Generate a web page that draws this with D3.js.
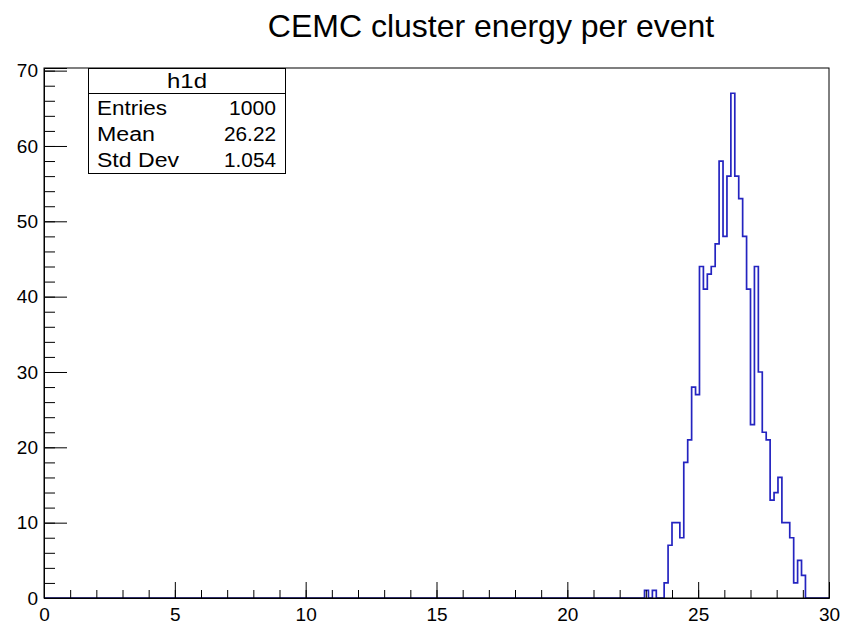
<!DOCTYPE html>
<html>
<head>
<meta charset="utf-8">
<script src="https://cdn.jsdelivr.net/npm/d3@7"></script>
<style>
  html, body { margin: 0; padding: 0; background: #fff; }
  svg text { font-family: "Liberation Sans", Arial, Helvetica, sans-serif; fill: #000; }
</style>
</head>
<body>
<svg id="chart" width="848" height="625"></svg>
<script>
// Histogram h1d: 200 bins over [0, 30]; only the filled range is listed.
const histTitle = "CEMC cluster energy per event";
const histName = "h1d";
const xRange = [0, 30];
const yMax = 70.35;
const binWidth = 0.15;
const firstBinLow = 22.95;
const binCounts = [1, 0, 1, 0, 0, 2, 7, 10, 10, 8, 18, 21, 28, 27, 44, 41, 43, 44, 47, 58,
                   48, 56, 67, 56, 53, 48, 41, 23, 44, 30, 22, 21, 13, 14, 16, 10, 10, 8, 2, 5, 3];
const xMajorTicks = [0, 5, 10, 15, 20, 25, 30];
const yMajorTicks = [0, 10, 20, 30, 40, 50, 60, 70];
const statLabels = ["Entries", "Mean", "Std Dev"];
const statValues = ["1000", "26.22", "1.054"];

const svg = d3.select("#chart");
const frame = { left: 44, right: 829, top: 68, bottom: 598 };

const x = d3.scaleLinear().domain(xRange).range([frame.left, frame.right]);
const y = d3.scaleLinear().domain([0, yMax]).range([frame.bottom, frame.top]);

// Title
svg.append("text")
  .attr("x", 491).attr("y", 37)
  .attr("text-anchor", "middle")
  .style("font-size", "32px")
  .text(histTitle);

// Frame background
svg.append("rect")
  .attr("x", frame.left).attr("y", frame.top)
  .attr("width", frame.right - frame.left).attr("height", frame.bottom - frame.top)
  .attr("fill", "#fff");

// Step outline of the histogram
const bins = binCounts.map((c, i) => ({ x0: firstBinLow + i * binWidth, x1: firstBinLow + (i + 1) * binWidth, c }));
const pts = [[xRange[0], 0], [bins[0].x0, 0]];
bins.forEach(b => { pts.push([b.x0, b.c]); pts.push([b.x1, b.c]); });
pts.push([bins[bins.length - 1].x1, 0]);
pts.push([xRange[1], 0]);
svg.append("path")
  .attr("d", d3.line().x(d => x(d[0])).y(d => y(d[1]))(pts))
  .attr("fill", "none")
  .attr("stroke", "#2424c0")
  .attr("stroke-width", 1.7)
  .attr("stroke-linejoin", "miter");

// Frame border
svg.append("rect")
  .attr("x", frame.left).attr("y", frame.top)
  .attr("width", frame.right - frame.left).attr("height", frame.bottom - frame.top)
  .attr("fill", "none").attr("stroke", "#000").attr("stroke-width", 1);

// X axis: major ticks with labels, minor ticks every unit, all pointing into the frame
const xMinor = d3.range(xRange[0], xRange[1] + 0.001, 1);
svg.append("g").attr("transform", `translate(0,${frame.bottom})`)
  .call(d3.axisBottom(x).tickValues(xMinor).tickSize(-8).tickFormat(""))
  .call(g => g.select(".domain").remove());
svg.append("g").attr("transform", `translate(0,${frame.bottom})`)
  .call(d3.axisBottom(x).tickValues(xMajorTicks).tickSize(-16).tickPadding(10).tickFormat(d3.format("d")))
  .call(g => g.select(".domain").attr("stroke", "#000"))
  .call(g => g.selectAll("text").style("font-size", "19px").attr("font-family", null));

// Y axis
const yMinor = d3.range(0, 70.001, 2);
svg.append("g").attr("transform", `translate(${frame.left},0)`)
  .call(d3.axisLeft(y).tickValues(yMinor).tickSize(-11).tickFormat(""))
  .call(g => g.select(".domain").remove());
svg.append("g").attr("transform", `translate(${frame.left},0)`)
  .call(d3.axisLeft(y).tickValues(yMajorTicks).tickSize(-23).tickPadding(6).tickFormat(d3.format("d")))
  .call(g => g.select(".domain").attr("stroke", "#000"))
  .call(g => g.selectAll("text").style("font-size", "19px").attr("font-family", null));

// Statistics box
const box = { x: 88.5, y: 68.5, w: 197, h: 105, head: 25 };
const labelWidths = [70, 58, 82];
const valueWidths = [47, 52, 52];
const sb = svg.append("g");
sb.append("rect").attr("x", box.x).attr("y", box.y).attr("width", box.w).attr("height", box.h)
  .attr("fill", "#fff").attr("stroke", "#000").attr("stroke-width", 1);
sb.append("line").attr("x1", box.x).attr("x2", box.x + box.w)
  .attr("y1", box.y + box.head).attr("y2", box.y + box.head).attr("stroke", "#000");
sb.append("text").attr("x", box.x + box.w / 2).attr("y", 88).attr("text-anchor", "middle")
  .style("font-size", "20px").attr("textLength", 40).attr("lengthAdjust", "spacingAndGlyphs")
  .text(histName);
const rowY = [115, 141, 167];
statLabels.forEach((lab, i) => {
  sb.append("text").attr("x", 97).attr("y", rowY[i]).style("font-size", "19.5px")
    .attr("textLength", labelWidths[i]).attr("lengthAdjust", "spacingAndGlyphs").text(lab);
  sb.append("text").attr("x", 276 - valueWidths[i]).attr("y", rowY[i])
    .style("font-size", "19.5px")
    .attr("textLength", valueWidths[i]).attr("lengthAdjust", "spacingAndGlyphs").text(statValues[i]);
});
</script>
</body>
</html>
